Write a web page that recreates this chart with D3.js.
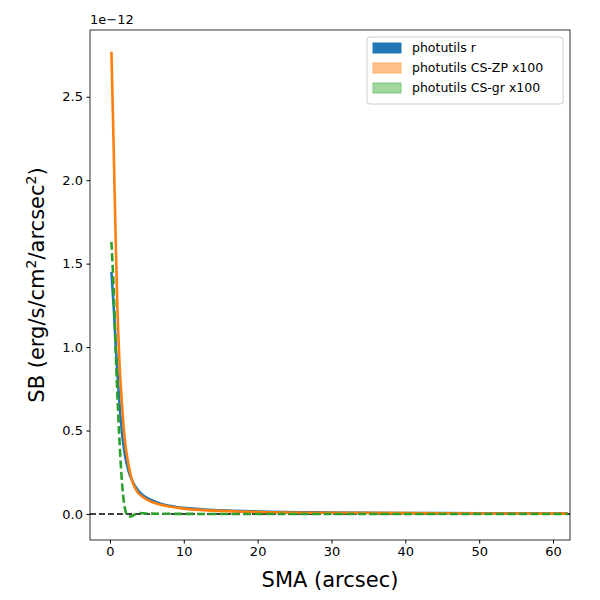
<!DOCTYPE html>
<html><head><meta charset="utf-8">
<script src="https://cdn.jsdelivr.net/npm/d3@7"></script>
<style>body{margin:0;background:#fff;font-family:"DejaVu Sans",sans-serif;}</style>
</head><body><div id="chart"></div>
<script>
// values in units of 1e-12
var smaR = [0.2, 0.5, 0.8, 1.2, 1.6, 2.0, 2.5, 3.0, 3.5, 4.5, 5.5, 7, 9, 12, 16, 20, 30, 40, 50, 62];
var sbR = [1.45, 1.25, 1.0, 0.72, 0.5, 0.36, 0.26, 0.2, 0.16, 0.11, 0.085, 0.06, 0.042, 0.03, 0.02, 0.015, 0.009, 0.006, 0.004, 0.003];
var smaZP = [0.2, 0.4, 0.7, 1.0, 1.3, 1.6, 2.0, 2.5, 3.0, 3.6, 4.5, 5.5, 6.5, 8, 10, 14, 20, 30, 40, 50, 62];
var sbZP = [2.77, 2.4, 1.8, 1.25, 0.9, 0.68, 0.45, 0.3, 0.2, 0.14, 0.1, 0.075, 0.06, 0.045, 0.032, 0.02, 0.012, 0.007, 0.005, 0.003, 0.002];
var smaGR = [0.2, 0.5, 0.8, 1.1, 1.4, 1.7, 2.0, 2.4, 2.8, 3.3, 4, 5, 8, 15, 30, 62];
var sbGR = [1.63, 1.35, 0.95, 0.62, 0.35, 0.15, 0.04, -0.01, -0.015, -0.005, 0.006, 0.003, 0.001, 0, 0, 0];
var xTicks = [0, 10, 20, 30, 40, 50, 60];
var yTicks = [0, 0.5, 1.0, 1.5, 2.0, 2.5];
var legendNames = ['photutils r', 'photutils CS-ZP x100', 'photutils CS-gr x100'];

var svg = d3.select('#chart').append('svg').attr('width', 600).attr('height', 600);
var margin = {left: 90, top: 30, right: 30, bottom: 60};
var width = 600 - margin.left - margin.right;
var height = 600 - margin.top - margin.bottom;
var g = svg.append('g').attr('transform', `translate(${margin.left},${margin.top})`);

var x = d3.scaleLinear().domain([-2.7, 62.3]).range([0, width]);
var y = d3.scaleLinear().domain([-0.156, 2.9]).range([height, 0]);

var xAxis = g.append('g').attr('transform', `translate(0,${height})`)
  .call(d3.axisBottom(x).tickValues(xTicks).tickSize(3.5).tickPadding(3.5));
var yAxis = g.append('g')
  .call(d3.axisLeft(y).tickValues(yTicks).tickSize(3.5).tickPadding(3.5).tickFormat(d3.format('.1f')));
[xAxis, yAxis].forEach(function(a) {
  a.selectAll('text').attr('font-size', 13).attr('font-family', 'DejaVu Sans').attr('fill', '#000');
  a.selectAll('line').attr('stroke', '#000');
  a.select('.domain').remove();
});
g.append('rect').attr('width', width).attr('height', height).attr('fill', 'none').attr('stroke', '#000').attr('stroke-width', 0.8);

g.append('line').attr('x1', 0).attr('x2', width).attr('y1', y(0)).attr('y2', y(0))
  .attr('stroke', '#000').attr('stroke-width', 1.5).attr('stroke-dasharray', '6,3');

var line = d3.line().curve(d3.curveMonotoneX);
function draw(xs, ys, color, dash) {
  g.append('path').datum(xs.map(function(d, i) { return [x(d), y(ys[i])]; }))
    .attr('d', line).attr('fill', 'none').attr('stroke', color).attr('stroke-width', 2.6)
    .attr('stroke-dasharray', dash || null);
}
draw(smaR, sbR, '#1f77b4');
draw(smaZP, sbZP, '#ff7f0e');
draw(smaGR, sbGR, '#2ca02c', '8,3.5');

svg.append('text').attr('x', margin.left).attr('y', 24).attr('font-size', 13).text('1e\u221212');

var lg = g.append('g').attr('transform', `translate(${width - 203},7)`);
lg.append('rect').attr('width', 196).attr('height', 67).attr('rx', 3).attr('fill', '#fff')
  .attr('stroke', '#ccc');
var lcol = ['#1f77b4', '#ffbf8a', '#9fd89f'];
var lstroke = ['#1f77b4', '#ffae6a', '#7ec87e'];
legendNames.forEach(function(n, i) {
  lg.append('rect').attr('x', 6).attr('y', 6 + i * 20).attr('width', 28).attr('height', 10)
    .attr('fill', lcol[i]).attr('stroke', lstroke[i]);
  lg.append('text').attr('x', 45).attr('y', 15 + i * 20).attr('font-size', 12.5).text(n);
});

svg.append('text').attr('x', margin.left + width / 2).attr('y', 587).attr('text-anchor', 'middle')
  .attr('font-size', 21).text('SMA (arcsec)');
var yl = svg.append('text').attr('transform', `translate(44,${margin.top + height / 2}) rotate(-90)`)
  .attr('text-anchor', 'middle').attr('font-size', 21);
yl.append('tspan').text('SB (erg/s/cm');
yl.append('tspan').attr('font-size', 14).attr('dy', -8).text('2');
yl.append('tspan').attr('dy', 8).text('/arcsec');
yl.append('tspan').attr('font-size', 14).attr('dy', -8).text('2');
yl.append('tspan').attr('dy', 8).text(')');
</script></body></html>
